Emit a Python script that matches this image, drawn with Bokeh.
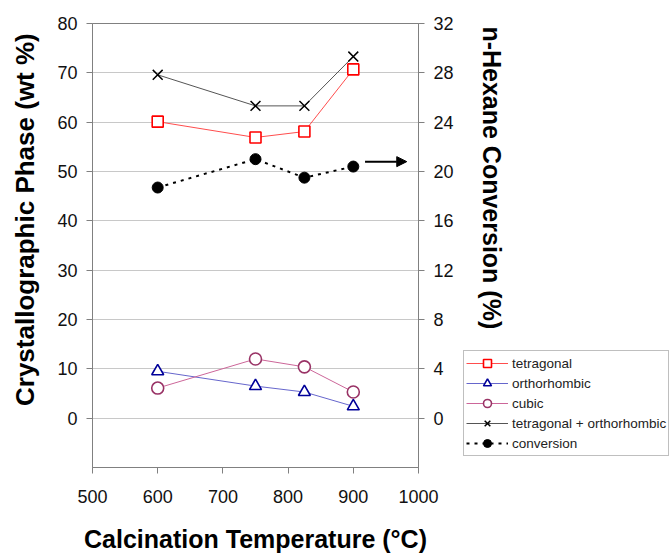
import math
from bokeh.plotting import figure
from bokeh.layouts import row
from bokeh.models import (Range1d, LinearAxis, FixedTicker, Legend, LegendItem,
                          Arrow, NormalHead, Label)
from bokeh.embed import file_html
from bokeh.resources import INLINE

# ---- data ----
temps = [600, 750, 825, 900]
tetragonal = [60.1, 56.9, 58.1, 70.7]
orthorhombic = [9.5, 6.5, 5.3, 2.4]
cubic = [6.1, 12.0, 10.4, 5.3]
tetra_ortho = [69.6, 63.3, 63.3, 73.3]
conversion = [18.7, 21.0, 19.5, 20.4]

series_names = ["tetragonal", "orthorhombic", "cubic",
                "tetragonal + orthorhombic", "conversion"]

x_ticks = [500, 600, 700, 800, 900, 1000]
left_ticks = [0, 10, 20, 30, 40, 50, 60, 70, 80]
right_ticks = [0, 4, 8, 12, 16, 20, 24, 28, 32]

arrow_x = [918, 982]
arrow_y = 20.8

FONT = "Liberation Sans"
AX = "#808080"
H = 555
TOP, BOTTOM = 23, 86
W_LEFT, W_MAIN, W_RIGHT = 45, 411, 214

# ---- series styles ----
styles = [
    dict(line=dict(line_color="#ff4d4d", line_width=1),
         mark=dict(marker="square", size=11, line_color="#ff0000", fill_color="white", line_width=1.6)),
    dict(line=dict(line_color="#6666cc", line_width=1),
         mark=dict(marker="triangle", size=12, line_color="#000099", fill_color="white", line_width=1.6)),
    dict(line=dict(line_color="#cc6699", line_width=1),
         mark=dict(marker="circle", size=12, line_color="#993366", fill_color="white", line_width=1.6)),
    dict(line=dict(line_color="#555555", line_width=1),
         mark=dict(marker="x", size=14, line_color="black", line_width=1.5)),
    dict(line=dict(line_color="black", line_width=2, line_dash="3 5"),
         mark=dict(marker="circle", size=11, line_color="black", fill_color="black")),
]
values = [tetragonal, orthorhombic, cubic, tetra_ortho, conversion]
on_right = [False, False, False, False, True]

# ---- main plot ----
p = figure(width=W_MAIN, height=H, output_backend="svg", toolbar_location=None,
           x_range=Range1d(500, 1000), y_range=Range1d(-10, 80),
           min_border_left=47, min_border_right=36, min_border_top=TOP,
           min_border_bottom=BOTTOM)
p.background_fill_color = "white"
p.border_fill_color = "white"
p.outline_line_color = AX
p.outline_line_alpha = 1.0

p.extra_y_ranges = {"right": Range1d(-4, 32)}
right_axis = LinearAxis(y_range_name="right", ticker=FixedTicker(ticks=right_ticks))
p.add_layout(right_axis, "right")

p.xaxis.ticker = FixedTicker(ticks=x_ticks)
p.yaxis[0].ticker = FixedTicker(ticks=left_ticks)

for ax in p.xaxis + p.yaxis:
    ax.axis_line_color = AX
    ax.major_tick_line_color = AX
    ax.major_tick_out = 6
    ax.major_tick_in = 0
    ax.minor_tick_line_color = None
    ax.major_label_text_font = FONT
    ax.major_label_text_font_size = "18px"
    ax.major_label_text_color = "#111111"

p.xaxis.major_label_standoff = 16
p.yaxis.major_label_standoff = 9

p.xaxis.axis_label = "Calcination Temperature (°C)"
p.xaxis.axis_label_text_font = FONT
p.xaxis.axis_label_text_font_size = "25px"
p.xaxis.axis_label_text_font_style = "bold"
p.xaxis.axis_label_text_color = "black"
p.xaxis.axis_label_standoff = 19

p.xgrid.visible = False
p.ygrid.ticker = FixedTicker(ticks=left_ticks)
p.ygrid.grid_line_color = "#c8c8c8"
p.ygrid.grid_line_width = 1

for vals, st, rt in zip(values, styles, on_right):
    kw = dict(y_range_name="right") if rt else {}
    p.line(temps, vals, **kw, **st["line"])
    p.scatter(temps, vals, **kw, **st["mark"])

p.add_layout(Arrow(x_start=arrow_x[0], y_start=arrow_y, x_end=arrow_x[1], y_end=arrow_y,
                   y_range_name="right", line_color="black", line_width=2,
                   end=NormalHead(size=10, fill_color="black", line_color="black")))


def side_strip(width):
    # pixel-unit strip; its frame is aligned with the main plot's frame by the row
    f = figure(width=width, height=H, output_backend="svg", toolbar_location=None,
               x_range=Range1d(0, width), y_range=Range1d(BOTTOM, H - TOP),
               x_axis_location=None, y_axis_location=None,
               min_border_left=0, min_border_right=0,
               min_border_top=TOP, min_border_bottom=BOTTOM,
               outline_line_color=None)
    f.grid.visible = False
    return f


# ---- left strip: y-axis title ----
f0 = side_strip(W_LEFT)
f0.add_layout(Label(x=24, y=H - 220, text="Crystallographic Phase (wt %)",
                    angle=math.pi / 2, text_align="center", text_baseline="middle",
                    text_font=FONT, text_font_size="26px", text_font_style="bold",
                    text_color="black"))

# ---- right strip: secondary title + legend ----
f2 = side_strip(W_RIGHT)
f2.add_layout(Label(x=35, y=H - 178, text="n-Hexane Conversion (%)",
                    angle=-math.pi / 2, text_align="center", text_baseline="middle",
                    text_font=FONT, text_font_size="25px", text_font_style="bold",
                    text_color="black"))

items = []
for name, vals, st in zip(series_names, values, styles):
    # same series drawn here only to give the legend its glyphs (outside this strip's range)
    lr = f2.line(temps, vals, **st["line"])
    sr = f2.scatter(temps, vals, **st["mark"])
    items.append(LegendItem(label=name, renderers=[lr, sr]))

legend = Legend(items=items, location=(7, 11), border_line_color=AX, border_line_width=1,
                background_fill_color="white", background_fill_alpha=1.0,
                label_text_font=FONT, label_text_font_size="13.5px",
                label_text_color="#222222",
                glyph_width=42, glyph_height=20, label_height=20, spacing=0,
                padding=2, label_standoff=4, margin=0)
f2.add_layout(legend, "center")

layout = row(f0, p, f2, spacing=0)
open("out.html", "w").write(file_html(layout, INLINE))
